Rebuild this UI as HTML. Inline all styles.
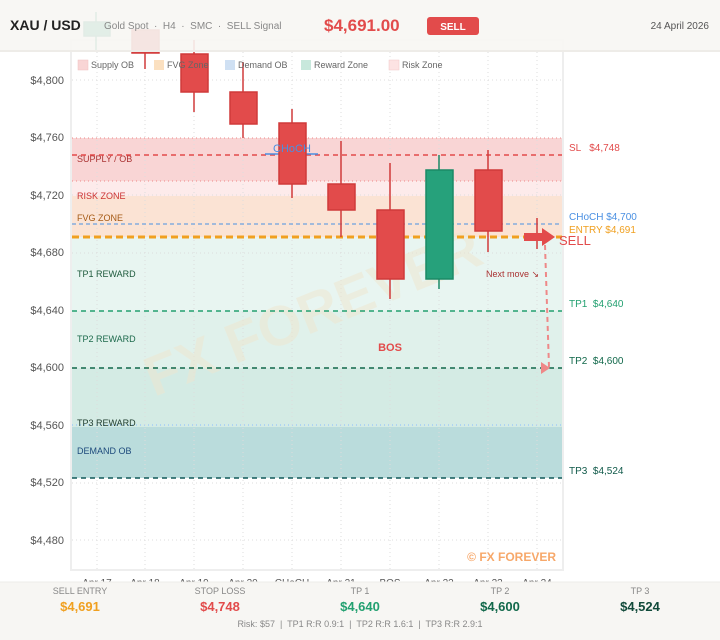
<!DOCTYPE html>
<html><head><meta charset="utf-8"><style>
body{margin:0;width:720px;height:640px;overflow:hidden;background:#fff;font-family:"Liberation Sans",sans-serif}
svg{position:absolute;left:0;top:0}
text{white-space:pre}
</style></head><body>
<svg width="720" height="640" viewBox="0 0 720 640" font-family="Liberation Sans, sans-serif" xml:space="preserve">
<rect x="72" y="138" width="490" height="43" fill="#f9d5d5"/>
<rect x="72" y="181" width="490" height="15" fill="#fdebeb"/>
<rect x="72" y="196" width="490" height="41" fill="#fbe3d4"/>
<rect x="72" y="237" width="490" height="74" fill="#e8f5f1"/>
<rect x="72" y="311" width="490" height="57" fill="#e0f1eb"/>
<rect x="72" y="368" width="490" height="59" fill="#d4ebe4"/>
<rect x="72" y="427" width="490" height="51" fill="#badcdc"/>
<g stroke="#ddd" stroke-dasharray="1,3" stroke-width="1">
<line x1="72" y1="80" x2="562" y2="80"/><line x1="72" y1="138" x2="562" y2="138" stroke="#e88"/>
<line x1="72" y1="181" x2="562" y2="181" stroke="#e88"/>
<line x1="72" y1="195" x2="562" y2="195"/><line x1="72" y1="253" x2="562" y2="253"/>
<line x1="72" y1="425" x2="562" y2="425" stroke="#8bf"/><line x1="72" y1="483" x2="562" y2="483"/><line x1="72" y1="540" x2="562" y2="540"/>
<line x1="97" y1="52" x2="97" y2="570"/><line x1="145" y1="52" x2="145" y2="570"/><line x1="194" y1="52" x2="194" y2="570"/><line x1="243" y1="52" x2="243" y2="570"/><line x1="292" y1="52" x2="292" y2="570"/><line x1="341" y1="52" x2="341" y2="570"/><line x1="390" y1="52" x2="390" y2="570"/><line x1="439" y1="52" x2="439" y2="570"/><line x1="488" y1="52" x2="488" y2="570"/><line x1="537" y1="52" x2="537" y2="570"/>
</g>
<rect x="71" y="40" width="492" height="530" fill="none" stroke="#eee" stroke-width="2"/>
<text x="320" y="330" font-size="56" font-weight="bold" fill="#efe6cf" opacity="0.5" text-anchor="middle" transform="rotate(-22 320 330)">FX FOREVER</text>
<g font-size="9">
<text x="77" y="162" fill="#a33">SUPPLY / OB</text>
<text x="77" y="199" fill="#c33">RISK ZONE</text>
<text x="77" y="221" fill="#a55a15">FVG ZONE</text>
<text x="77" y="277" fill="#1d5a3c">TP1 REWARD</text>
<text x="77" y="342" fill="#1d6a4c">TP2 REWARD</text>
<text x="77" y="426" fill="#1d3a2c">TP3 REWARD</text>
<text x="77" y="454" fill="#1d4a7c">DEMAND OB</text>
</g>
<line x1="72" y1="155" x2="562" y2="155" stroke="#e24b4b" stroke-width="1.5" stroke-dasharray="5,4"/>
<line x1="72" y1="224" x2="562" y2="224" stroke="#4a90e2" stroke-width="1" stroke-dasharray="4,3"/>
<line x1="72" y1="237" x2="562" y2="237" stroke="#f0a020" stroke-width="3" stroke-dasharray="7,4"/>
<line x1="72" y1="311" x2="562" y2="311" stroke="#22a070" stroke-width="1.5" stroke-dasharray="5,4"/>
<line x1="72" y1="368" x2="562" y2="368" stroke="#11684a" stroke-width="1.5" stroke-dasharray="5,4"/>
<line x1="72" y1="478" x2="562" y2="478" stroke="#115a5a" stroke-width="1.5" stroke-dasharray="5,4"/>
<line x1="265" y1="154" x2="318" y2="154" stroke="#4a90e2" stroke-width="1.5"/>
<g stroke="#d03a3a" stroke-width="1.5" fill="#e24b4b">
<line x1="145" y1="30" x2="145" y2="69"/><rect x="132" y="30" width="27" height="23"/>
<line x1="194" y1="40" x2="194" y2="112"/><rect x="181" y="54" width="27" height="38"/>
<line x1="243" y1="62" x2="243" y2="138"/><rect x="230" y="92" width="27" height="32"/>
<line x1="292" y1="109" x2="292" y2="198"/><rect x="279" y="123" width="27" height="61"/>
<line x1="341" y1="141" x2="341" y2="237"/><rect x="328" y="184" width="27" height="26"/>
<line x1="390" y1="163" x2="390" y2="299"/><rect x="377" y="210" width="27" height="69"/>
<line x1="488" y1="150" x2="488" y2="252"/><rect x="475" y="170" width="27" height="61"/>
<line x1="537" y1="218" x2="537" y2="249"/>
</g>
<g stroke="#1a8a66" stroke-width="1.5" fill="#26a17b">
<line x1="439" y1="155" x2="439" y2="289"/><rect x="426" y="170" width="27" height="109"/>
<line x1="96" y1="12" x2="96" y2="52"/><rect x="84" y="22" width="26" height="14"/>
</g>
<text x="292" y="152" font-size="11" fill="#4a90e2" text-anchor="middle">CHoCH</text>
<text x="390" y="351" font-size="11" font-weight="bold" fill="#e24b4b" text-anchor="middle">BOS</text>
<text x="486" y="277" font-size="9" fill="#a33">Next move ↘</text>
<rect x="524" y="233" width="18" height="8" fill="#e24b4b"/>
<polygon points="542,228 555,237 542,246" fill="#e24b4b"/>
<text x="559" y="245" font-size="13" fill="#e24b4b">SELL</text>
<line x1="545" y1="245" x2="549" y2="367" stroke="#e88" stroke-width="2" stroke-dasharray="5,4"/>
<polygon points="541,362 550,368 541,374" fill="#e88"/>
<g font-size="10">
<text x="569" y="151" fill="#e24b4b">SL   $4,748</text>
<text x="569" y="220" fill="#4a90e2">CHoCH $4,700</text>
<text x="569" y="233" fill="#f0a020">ENTRY $4,691</text>
<text x="569" y="307" fill="#22a070">TP1  $4,640</text>
<text x="569" y="364" fill="#11684a">TP2  $4,600</text>
<text x="569" y="474" fill="#115a4a">TP3  $4,524</text>
</g>
<g font-size="11" fill="#555" text-anchor="end">
<text x="64" y="84">$4,800</text><text x="64" y="141">$4,760</text><text x="64" y="199">$4,720</text><text x="64" y="256">$4,680</text><text x="64" y="314">$4,640</text><text x="64" y="371">$4,600</text><text x="64" y="429">$4,560</text><text x="64" y="486">$4,520</text><text x="64" y="544">$4,480</text>
</g>
<text x="556" y="561" font-size="12" font-weight="bold" fill="#f7a86a" text-anchor="end">© FX FOREVER</text>
<g font-size="10" fill="#555" text-anchor="middle">
<text x="97" y="586">Apr 17</text><text x="145" y="586">Apr 18</text><text x="194" y="586">Apr 19</text><text x="243" y="586">Apr 20</text><text x="292" y="586">CHoCH</text><text x="341" y="586">Apr 21</text><text x="390" y="586">BOS</text><text x="439" y="586">Apr 22</text><text x="488" y="586">Apr 23</text><text x="537" y="586">Apr 24</text>
</g>
<g font-size="9" fill="#666">
<rect x="78" y="60" width="10" height="10" fill="#f9d5d5" stroke="#f0c0c0" stroke-width="0.5"/><text x="91" y="68">Supply OB</text>
<rect x="154" y="60" width="10" height="10" fill="#fbe0c0"/><text x="167" y="68">FVG Zone</text>
<rect x="225" y="60" width="10" height="10" fill="#cfe0f3"/><text x="238" y="68">Demand OB</text>
<rect x="301" y="60" width="10" height="10" fill="#c8e8dc"/><text x="314" y="68">Reward Zone</text>
<rect x="389" y="60" width="10" height="10" fill="#fde3e3" stroke="#f0c8c8" stroke-width="0.5"/><text x="402" y="68">Risk Zone</text>
</g>
<rect x="0" y="0" width="720" height="51" fill="#f7f6f3" opacity="0.9"/>
<line x1="0" y1="51" x2="720" y2="51" stroke="#eeece8" stroke-width="2"/>
<text x="10" y="30" font-size="14" font-weight="bold" fill="#222">XAU / USD</text>
<text x="104" y="29" font-size="10" fill="#888">Gold Spot  ·  H4  ·  SMC  ·  SELL Signal</text>
<text x="324" y="31" font-size="17" font-weight="bold" fill="#e24b4b">$4,691.00</text>
<rect x="427" y="17" width="52" height="18" rx="3" fill="#e24b4b"/>
<text x="453" y="30" font-size="10" font-weight="bold" fill="#fff" text-anchor="middle">SELL</text>
<text x="709" y="29" font-size="10" fill="#555" text-anchor="end">24 April 2026</text>
<rect x="0" y="582" width="720" height="58" fill="#f7f6f3"/>
<line x1="0" y1="582" x2="720" y2="582" stroke="#eeece8"/>
<g text-anchor="middle">
<g font-size="9" fill="#888"><text x="80" y="594">SELL ENTRY</text><text x="220" y="594">STOP LOSS</text><text x="360" y="594">TP 1</text><text x="500" y="594">TP 2</text><text x="640" y="594">TP 3</text></g>
<g font-size="13" font-weight="bold"><text x="80" y="611" fill="#f0a020">$4,691</text><text x="220" y="611" fill="#e24b4b">$4,748</text><text x="360" y="611" fill="#22a070">$4,640</text><text x="500" y="611" fill="#11684a">$4,600</text><text x="640" y="611" fill="#114a3a">$4,524</text></g>
<text x="360" y="627" font-size="9" fill="#888">Risk: $57  |  TP1 R:R 0.9:1  |  TP2 R:R 1.6:1  |  TP3 R:R 2.9:1</text>
</g>
</svg>
</body></html>
